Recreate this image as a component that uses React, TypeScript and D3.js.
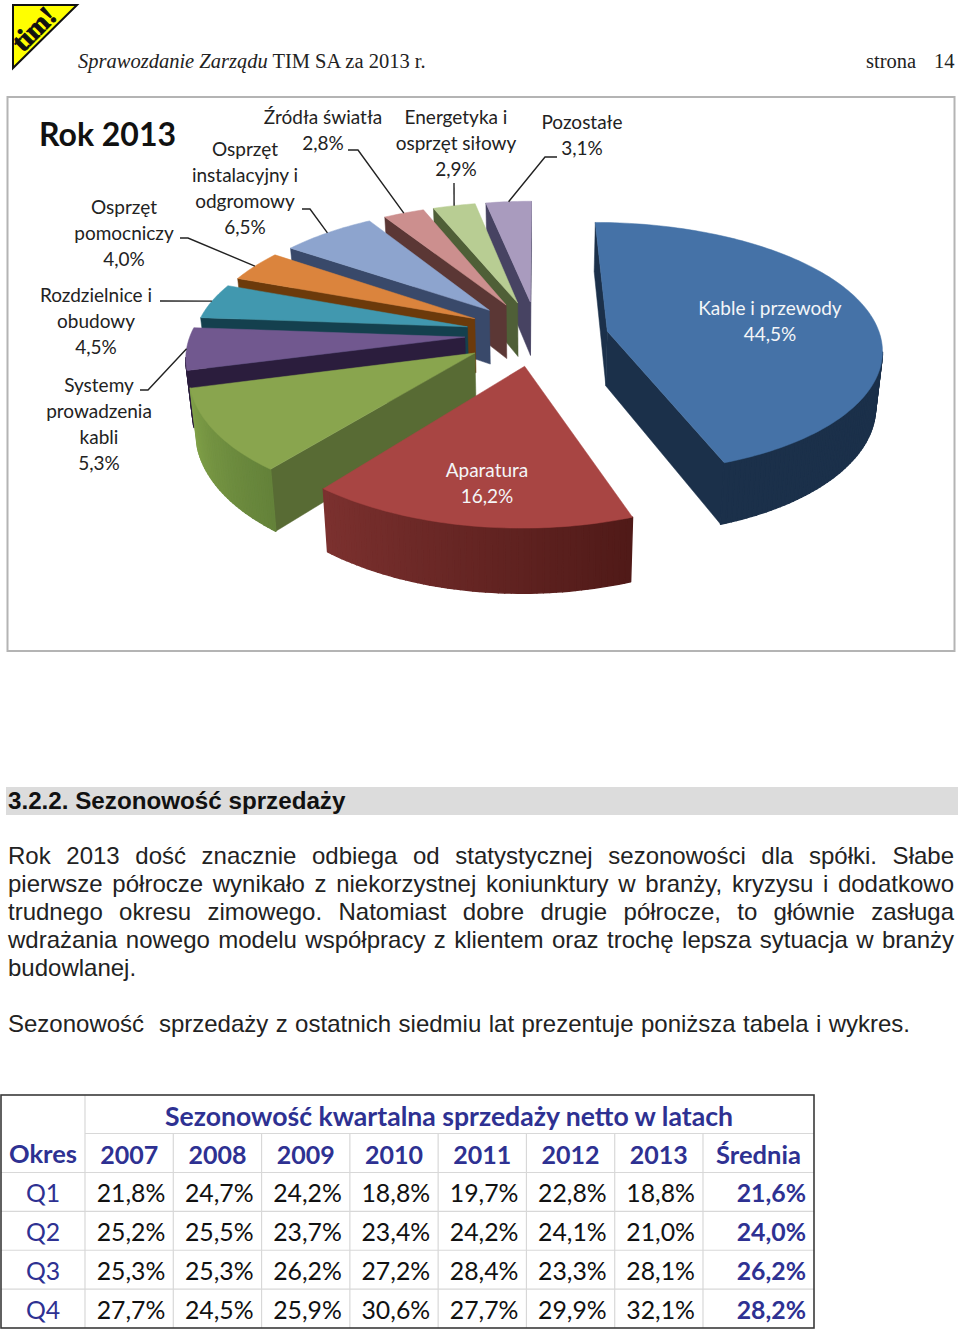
// App.tsx
import React from 'react';
import * as d3 from 'd3';

// pie data, clockwise from 12 o'clock
const sliceShares = [44.5, 16.2, 10.2, 5.3, 4.5, 4.0, 6.5, 2.8, 2.9, 3.1];
const sliceLabels = [
  ['Kable i przewody'],
  ['Aparatura'],
  [],
  ['Systemy', 'prowadzenia', 'kabli'],
  ['Rozdzielnice i', 'obudowy'],
  ['Osprzęt', 'pomocniczy'],
  ['Osprzęt', 'instalacyjny i', 'odgromowy'],
  ['Źródła światła'],
  ['Energetyka i', 'osprzęt siłowy'],
  ['Pozostałe'],
];
const topColors = ['#4572A7', '#A84543', '#89A54E', '#71588F', '#4198AF', '#DB843D', '#8DA4CE', '#CC8F8E', '#B8CD93', '#A99BBE'];
const sideColors = ['#1B304A', '#6E2B29', '#586B34', '#2B1D3D', '#14404E', '#6C3A0B', '#39496A', '#5B3735', '#4F5F37', '#474362'];
const rimLight = ['#1B304A', '#7C312F', '#80A048', '#2B1D3D', '#14404E', '#6C3A0B', '#39496A', '#5B3735', '#4F5F37', '#474362'];
const rimDark = ['#1B304A', '#501A18', '#64823A', '#2B1D3D', '#14404E', '#6C3A0B', '#39496A', '#5B3735', '#4F5F37', '#474362'];
const drawOrder = [9, 8, 7, 6, 5, 4, 3, 2, 0, 1];

// table data
const tableTitle = 'Sezonowość kwartalna sprzedaży netto w latach';
const years = ['2007', '2008', '2009', '2010', '2011', '2012', '2013'];
const quarters = ['Q1', 'Q2', 'Q3', 'Q4'];
const q1Values = [21.8, 24.7, 24.2, 18.8, 19.7, 22.8, 18.8];
const q2Values = [25.2, 25.5, 23.7, 23.4, 24.2, 24.1, 21.0];
const q3Values = [25.3, 25.3, 26.2, 27.2, 28.4, 23.3, 28.1];
const q4Values = [27.7, 24.5, 25.9, 30.6, 27.7, 29.9, 32.1];
const quarterValues = [q1Values, q2Values, q3Values, q4Values];
const averages = [21.6, 24.0, 26.2, 28.2];

const bodyLines = [
  'Rok 2013 dość znacznie odbiega od statystycznej sezonowości dla spółki. Słabe',
  'pierwsze półrocze wynikało z niekorzystnej koniunktury w branży, kryzysu i dodatkowo',
  'trudnego okresu zimowego. Natomiast dobre drugie półrocze, to głównie zasługa',
  'wdrażania nowego modelu współpracy z klientem oraz trochę lepsza sytuacja w branży',
];
const closingLine = 'Sezonowość  sprzedaży z ostatnich siedmiu lat prezentuje poniższa tabela i wykres.';

const pct = (v: number) => v.toFixed(1).replace('.', ',') + '%';
const SANS = 'Liberation Sans, Arial, sans-serif';
const SERIF = 'Liberation Serif, Times New Roman, serif';
const CAL = 'Lato, sans-serif';
const NAVY = '#2E3192';

// perspective set-up of the pie
const cx = 537;
const cy = 334;
const persp = 0.00073;
const horizon = 644;
const explode = 72;
const thick = 55;
const nudgeY = [3, -3, 0, 0, 0, 0, 0, 0, 0, 0]; // small per-slice correction

type Pt = [number, number];

const arcs = d3.pie<number>().value((d) => d).sort(null)(sliceShares);

function project(u: number, far: number, z: number): Pt {
  const s = 1 / (1 + persp * far);
  const x = cx + u * s;
  const y = cy - horizon + horizon * s;
  if (!z) return [x, y];
  return [cx + (x - cx) * 0.98, y + z * (0.4 + 0.6 * s)];
}

function piePoint(i: number, theta: number, atRim: boolean, z: number): Pt {
  const mid = (arcs[i].startAngle + arcs[i].endAngle) / 2;
  const ru = atRim ? 274 + 22 * Math.cos(theta) : 0;
  const rf = atRim ? 267 + 17 * Math.cos(theta) : 0;
  const u = explode * Math.sin(mid) + ru * Math.sin(theta);
  const far = explode * Math.cos(mid) + rf * Math.cos(theta);
  const p = project(u, far, z);
  return [p[0], p[1] + nudgeY[i]];
}

const line = d3.line<Pt>();

function Slice({ i }: { i: number }) {
  const a0 = arcs[i].startAngle;
  const a1 = arcs[i].endAngle;
  const steps = d3.range(0, 1.0001, 1 / Math.max(2, Math.ceil((a1 - a0) / 0.02)));
  const angle = d3.scaleLinear().domain([0, 1]).range([a0, a1]);
  const shade = d3.interpolateRgb(rimDark[i], rimLight[i]);

  const apex = piePoint(i, 0, false, 0);
  const apexLow = piePoint(i, 0, false, thick);
  const radial = (a: number) => [apex, piePoint(i, a, true, 0), piePoint(i, a, true, thick), apexLow] as Pt[];
  const showStart = piePoint(i, a0, true, 0)[0] < apex[0];
  const showEnd = piePoint(i, a1, true, 0)[0] > apex[0];

  const top: Pt[] = [apex, ...steps.map((t) => piePoint(i, angle(t), true, 0))];

  return (
    <g>
      {showStart && <path d={line(radial(a0)) + 'Z'} fill={sideColors[i]} stroke={sideColors[i]} strokeWidth={0.5} />}
      {showEnd && <path d={line(radial(a1)) + 'Z'} fill={sideColors[i]} stroke={sideColors[i]} strokeWidth={0.5} />}
      {steps.slice(1).map((t, k) => {
        const t0 = steps[k];
        const p0 = piePoint(i, angle(t0), true, 0);
        const p1 = piePoint(i, angle(t), true, 0);
        if (p1[0] >= p0[0]) return null;
        const c = shade(k / (steps.length - 1));
        const quad: Pt[] = [p0, p1, piePoint(i, angle(t), true, thick), piePoint(i, angle(t0), true, thick)];
        return <path key={k} d={line(quad) + 'Z'} fill={c} stroke={c} strokeWidth={1.5} strokeLinejoin="round" />;
      })}
      <path d={line(top) + 'Z'} fill={topColors[i]} stroke={topColors[i]} strokeWidth={0.5} />
    </g>
  );
}

// label placement: centre x and first baseline per slice
const labelX = [770, 487, 0, 99, 96, 124, 245, 323, 456, 582];
const labelY = [315, 477, 0, 392, 302, 214, 156, 124, 124, 129];
const leaders: Record<number, Pt[]> = {
  3: [[140, 390], [148, 390]],
  4: [[160, 301]],
  5: [[180, 238], [188, 238]],
  6: [[302, 209], [310, 209]],
  7: [[348, 150], [358, 150]],
  8: [[454, 183]],
  9: [[557, 157], [545, 157]],
};

function rimMid(i: number): Pt {
  return piePoint(i, (arcs[i].startAngle + arcs[i].endAngle) / 2, true, 0);
}

function justifySpacing(text: string, font: string, width: number) {
  const ctx = document.createElement('canvas').getContext('2d');
  if (!ctx) return 0;
  ctx.font = font;
  const gaps = text.split(' ').length - 1;
  return (width - ctx.measureText(text).width) / gaps;
}

function Table() {
  const left = 1;
  const firstCol = 85;
  const right = 814;
  const top = 1095;
  const x = d3.scaleBand().domain(years).range([firstCol, 703]);
  const rowY = d3.scaleBand().domain(quarters).range([1172.5, 1328]);
  const grid = '#d8d8d8';
  const vLines = [...years.map((y) => x(y) as number), 703];
  return (
    <g fontFamily={CAL}>
      {quarters.map((q) => (
        <line key={q} x1={left} x2={right} y1={rowY(q)} y2={rowY(q)} stroke={grid} strokeWidth={1.2} />
      ))}
      <line x1={firstCol} x2={right} y1={1133.5} y2={1133.5} stroke={grid} strokeWidth={1.2} />
      {vLines.map((v, k) => (
        <line key={k} x1={v} x2={v} y1={k === 0 ? top : 1133.5} y2={1328} stroke={grid} strokeWidth={1.2} />
      ))}
      <rect x={left} y={top} width={right - left} height={1328 - top} fill="none" stroke="#3a3a3a" strokeWidth={1.6} />
      <text x={449} y={1126} textAnchor="middle" fontSize={26.6} fontWeight={700} fill={NAVY}>{tableTitle}</text>
      <text x={43} y={1163} textAnchor="middle" fontSize={25.5} fontWeight={700} fill={NAVY}>Okres</text>
      {years.map((y) => (
        <text key={y} x={(x(y) as number) + x.bandwidth() / 2} y={1164} textAnchor="middle" fontSize={25} fontWeight={700} fill={NAVY}>{y}</text>
      ))}
      <text x={758.5} y={1164} textAnchor="middle" fontSize={25.5} fontWeight={700} fill={NAVY}>Średnia</text>
      {quarters.map((q, r) => {
        const base = (rowY(q) as number) + 29.5;
        return (
          <g key={q} fontSize={24.8}>
            <text x={43} y={base} textAnchor="middle" fill={NAVY}>{q}</text>
            {years.map((y, c) => (
              <text key={y} x={(x(y) as number) + x.bandwidth() - 8} y={base} textAnchor="end" fill="#111">{pct(quarterValues[r][c])}</text>
            ))}
            <text x={806} y={base} textAnchor="end" fontWeight={700} fill={NAVY}>{pct(averages[r])}</text>
          </g>
        );
      })}
    </g>
  );
}

export default function App() {
  const bodyFont = `24px ${SANS}`;
  return (
    <svg width={960} height={1330} style={{ position: 'absolute', left: 0, top: 0, display: 'block' }}>
      <rect width={960} height={1330} fill="#fff" />

      {/* logo */}
      <path d="M13,5 L77,5 L13,68 Z" fill="#FFFF00" stroke="#111" strokeWidth={2} />
      <text transform="translate(23,53) rotate(-45)" fontFamily={SERIF} fontWeight={700} fontSize={28} fill="#111" stroke="#111" strokeWidth={0.9}>tim!</text>

      {/* page header */}
      <text x={78} y={68} fontFamily={SERIF} fontSize={20.5} fill="#222">
        <tspan fontStyle="italic">Sprawozdanie Zarządu</tspan> TIM SA za 2013 r.
      </text>
      <text x={866} y={68} fontFamily={SERIF} fontSize={20.5} fill="#222">strona</text>
      <text x={934} y={68} fontFamily={SERIF} fontSize={20.5} fill="#222">14</text>

      {/* chart frame */}
      <rect x={7.5} y={97} width={947} height={554} fill="#fff" stroke="#b4b4b4" strokeWidth={2} />
      <text x={39} y={146} fontFamily={CAL} fontWeight={700} fontSize={32} fill="#111">Rok 2013</text>

      {drawOrder.map((i) => <Slice key={i} i={i} />)}

      {Object.entries(leaders).map(([k, pts]) => (
        <path key={k} d={line([...pts, rimMid(+k)]) as string} fill="none" stroke="#222" strokeWidth={1.4} />
      ))}

      <g fontFamily={CAL} fontSize={19} textAnchor="middle">
        {sliceLabels.map((lines, i) => lines.length === 0 ? null : (
          <text key={i} x={labelX[i]} y={labelY[i]} fill={i < 2 ? '#f4f6f8' : '#222'}>
            {[...lines, pct(sliceShares[i])].map((t, k) => (
              <tspan key={k} x={labelX[i]} dy={k === 0 ? 0 : 26}>{t}</tspan>
            ))}
          </text>
        ))}
      </g>

      {/* section text */}
      <rect x={6} y={787} width={952} height={28} fill="#dcdcdc" />
      <text x={8} y={809} fontFamily={SANS} fontWeight={700} fontSize={24.2} fill="#111">3.2.2. Sezonowość sprzedaży</text>
      <g fontFamily={SANS} fontSize={24} fill="#222">
        {bodyLines.map((t, k) => (
          <text key={k} x={8} y={864 + k * 28} style={{ wordSpacing: justifySpacing(t, bodyFont, 946) }}>{t}</text>
        ))}
        <text x={8} y={976}>budowlanej.</text>
        <text x={8} y={1032} style={{ whiteSpace: 'pre', wordSpacing: justifySpacing(closingLine, bodyFont, 902) }}>{closingLine}</text>
      </g>

      <Table />
    </svg>
  );
}
